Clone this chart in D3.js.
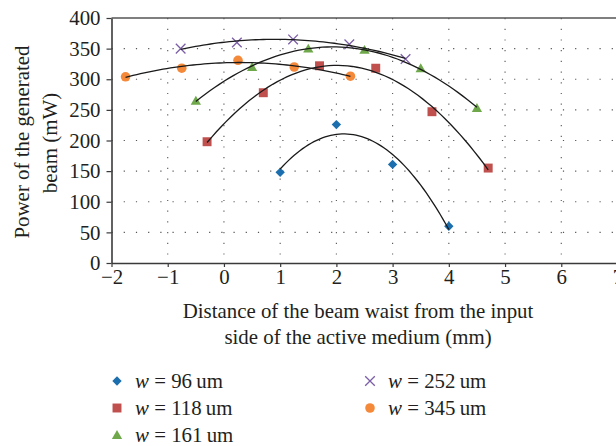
<!DOCTYPE html>
<html>
<head>
<meta charset="utf-8">
<script src="https://cdn.jsdelivr.net/npm/d3@7"></script>
<style>
  body { margin: 0; background: #fff; }
  svg { display: block; }
  svg text { font-family: "Liberation Serif", "Tinos", "Times New Roman", "DejaVu Serif", serif; }
</style>
</head>
<body>
<svg id="chart" width="616" height="446"></svg>
<script>
// distance of the beam waist (mm) and generated power (mW), one pair of arrays per waist size
const x96 = [1, 2, 3, 4];
const p96 = [148, 226, 161, 60];
const x118 = [-0.3, 0.7, 1.7, 2.7, 3.7, 4.7];
const p118 = [198, 278, 322, 318, 247, 155];
const x161 = [-0.5, 0.5, 1.5, 2.5, 3.5, 4.5];
const p161 = [265, 320, 350, 348, 318, 253];
const x252 = [-0.77, 0.23, 1.23, 2.23, 3.23];
const p252 = [350, 360, 365, 357, 333];
const x345 = [-1.75, -0.75, 0.25, 1.25, 2.25];
const p345 = [304, 318, 331, 320, 305];

const seriesNames = ['96', '118', '161', '252', '345'];
const xTicks = [-2, -1, 0, 1, 2, 3, 4, 5, 6, 7];
const yTicks = [0, 50, 100, 150, 200, 250, 300, 350, 400];

const series = [
  { name: seriesNames[0], xs: x96, ys: p96, color: '#1b6fae', shape: 'diamond' },
  { name: seriesNames[1], xs: x118, ys: p118, color: '#c0504d', shape: 'square' },
  { name: seriesNames[2], xs: x161, ys: p161, color: '#6ea84b', shape: 'triangle' },
  { name: seriesNames[3], xs: x252, ys: p252, color: '#7b5ea7', shape: 'x' },
  { name: seriesNames[4], xs: x345, ys: p345, color: '#f5893a', shape: 'circle' }
];

const svg = d3.select('#chart');
const axisColor = '#3a3a3a';
const textColor = '#231f20';

// pick a font size so that the first x-title line is about 351px wide, whatever serif face is found
const probe = svg.append('text').attr('font-size', 20).text('Distance of the beam waist from the input');
const fs = Math.min(21, 20 * 351 / probe.node().getComputedTextLength());
probe.remove();

const x = d3.scaleLinear().domain([-2, 7]).range([111.5, 617.5]);
const y = d3.scaleLinear().domain([0, 400]).range([263, 18]);

// dotted gridlines
const grid = svg.append('g');
grid.selectAll('line.h')
  .data(yTicks.filter(d => d > 0 && d < 400))
  .enter().append('line')
    .attr('x1', x(-2)).attr('x2', x(7))
    .attr('y1', d => y(d)).attr('y2', d => y(d))
    .attr('stroke', '#555').attr('stroke-width', 1.1)
    .attr('stroke-dasharray', '1.2 11');
grid.selectAll('line.v')
  .data(xTicks.filter(d => d > -2))
  .enter().append('line')
    .attr('x1', d => x(d)).attr('x2', d => x(d))
    .attr('y1', y(400)).attr('y2', y(0))
    .attr('stroke', '#555').attr('stroke-width', 1.1)
    .attr('stroke-dasharray', '1.2 9.5');

// top border
svg.append('line')
  .attr('x1', x(-2)).attr('x2', x(7))
  .attr('y1', y(400)).attr('y2', y(400))
  .attr('stroke', '#555').attr('stroke-width', 1.4);

// axes
const yAxis = svg.append('g')
  .attr('transform', `translate(${x(-2)},0)`)
  .call(d3.axisLeft(y).tickValues(yTicks).tickSize(5).tickPadding(6).tickSizeOuter(0));
const xAxis = svg.append('g')
  .attr('transform', `translate(0,${y(0)})`)
  .call(d3.axisBottom(x).tickValues(xTicks).tickSize(4).tickPadding(6).tickSizeOuter(0));

[xAxis, yAxis].forEach(a => {
  a.attr('font-family', null).attr('font-size', null);
  a.select('.domain').attr('stroke', axisColor).attr('stroke-width', 1.6);
  a.selectAll('.tick line').attr('stroke', axisColor).attr('stroke-width', 1.2);
  a.selectAll('.tick text')
    .attr('fill', textColor)
    .attr('font-size', fs);
});
xAxis.selectAll('.tick text').attr('dy', null).attr('y', 21);

// least squares quadratic for the trendlines
function quadFit(xs, ys) {
  let s = [0, 0, 0, 0, 0], t = [0, 0, 0];
  xs.forEach((xv, i) => {
    for (let k = 0; k < 5; k++) s[k] += Math.pow(xv, k);
    for (let k = 0; k < 3; k++) t[k] += ys[i] * Math.pow(xv, k);
  });
  const m = [[s[0], s[1], s[2]], [s[1], s[2], s[3]], [s[2], s[3], s[4]]];
  const det = a => a[0][0] * (a[1][1] * a[2][2] - a[1][2] * a[2][1])
    - a[0][1] * (a[1][0] * a[2][2] - a[1][2] * a[2][0])
    + a[0][2] * (a[1][0] * a[2][1] - a[1][1] * a[2][0]);
  const D = det(m);
  const c = [0, 1, 2].map(j => det(m.map((row, i) => row.map((v, k) => k === j ? t[i] : v))) / D);
  return xv => c[0] + c[1] * xv + c[2] * xv * xv;
}

function symbolPath(shape) {
  if (shape === 'diamond') return d3.symbol(d3.symbolSquare, 44)();
  if (shape === 'square') return d3.symbol(d3.symbolSquare, 80)();
  if (shape === 'triangle') return d3.symbol(d3.symbolTriangle, 46)();
  if (shape === 'x') return d3.symbol(d3.symbolX, 62)();
  return d3.symbol(d3.symbolCircle, 72)();
}

function drawMarker(g, s, cx, cy) {
  const p = g.append('path')
    .attr('d', symbolPath(s.shape))
    .attr('transform', `translate(${cx},${cy})` + (s.shape === 'diamond' ? ' rotate(45)' : '')
      + (s.shape === 'triangle' ? ' translate(0,1)' : ''));
  if (s.shape === 'x') p.attr('fill', 'none').attr('stroke', s.color).attr('stroke-width', 1.3);
  else p.attr('fill', s.color);
}

const marks = svg.append('g');
series.forEach(s => {
  s.xs.forEach((xv, i) => drawMarker(marks, s, x(xv), y(s.ys[i])));
});

const line = d3.line().x(d => x(d[0])).y(d => y(d[1]));
series.forEach(s => {
  const f = quadFit(s.xs, s.ys);
  const lo = d3.min(s.xs), hi = d3.max(s.xs);
  const pts = d3.range(0, 61).map(i => {
    const xv = lo + (hi - lo) * i / 60;
    return [xv, f(xv)];
  });
  svg.append('path')
    .attr('d', line(pts))
    .attr('fill', 'none')
    .attr('stroke', '#1a1a1a')
    .attr('stroke-width', 1.3);
});

// axis titles
const yTitle = svg.append('text')
  .attr('transform', 'rotate(-90)')
  .attr('text-anchor', 'middle')
  .attr('font-size', fs)
  .attr('fill', textColor);
yTitle.append('tspan').attr('x', -142).attr('y', 29).text('Power of the generated');
yTitle.append('tspan').attr('x', -143).attr('y', 57).text('beam (mW)');

const xTitle = svg.append('text')
  .attr('text-anchor', 'middle')
  .attr('font-size', fs)
  .attr('fill', textColor);
xTitle.append('tspan').attr('x', 358).attr('y', 318).text('Distance of the beam waist from the input');
xTitle.append('tspan').attr('x', 358).attr('y', 344).text('side of the active medium (mm)');

// legend
const legendPos = [[117, 381], [117, 408], [117, 435], [370, 381], [370, 408]];
const legend = svg.append('g');
series.forEach((s, i) => {
  const [lx, ly] = legendPos[i];
  drawMarker(legend, s, lx, ly);
  const t = legend.append('text')
    .attr('x', lx + 18).attr('y', ly + 6.5)
    .attr('font-size', fs)
    .attr('fill', textColor);
  t.append('tspan').attr('font-style', 'italic').text('w');
  t.append('tspan').text(` = ${s.name}\u2009um`);
});
</script>
</body>
</html>
